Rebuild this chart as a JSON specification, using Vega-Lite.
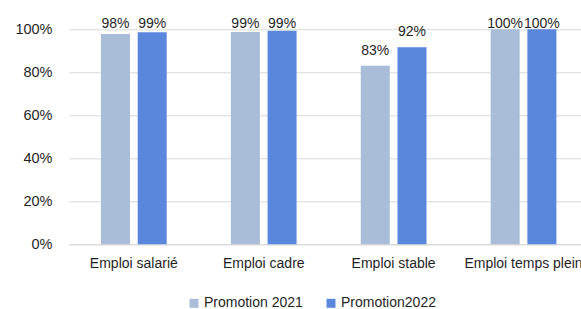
{
  "$schema": "https://vega.github.io/schema/vega-lite/v6.json",
  "width": 512,
  "height": 215,
  "autosize": {"type": "none"},
  "padding": {"left": 69, "top": 29.3, "right": 0, "bottom": 64.7},
  "background": "white",
  "config": {
    "view": {"stroke": null},
    "font": "Liberation Sans",
    "axis": {"labelFont": "Liberation Sans", "labelColor": "#1f1f1f", "titleFont": "Liberation Sans"},
    "legend": {"labelFont": "Liberation Sans"}
  },
  "data": {
    "values": [
      {"categorie": "Emploi salarié", "promotion": "Promotion 2021", "taux": 0.978},
      {"categorie": "Emploi salarié", "promotion": "Promotion2022", "taux": 0.986},
      {"categorie": "Emploi cadre", "promotion": "Promotion 2021", "taux": 0.988},
      {"categorie": "Emploi cadre", "promotion": "Promotion2022", "taux": 0.993},
      {"categorie": "Emploi stable", "promotion": "Promotion 2021", "taux": 0.831},
      {"categorie": "Emploi stable", "promotion": "Promotion2022", "taux": 0.917},
      {"categorie": "Emploi temps plein", "promotion": "Promotion 2021", "taux": 1.0},
      {"categorie": "Emploi temps plein", "promotion": "Promotion2022", "taux": 1.0}
    ]
  },
  "encoding": {
    "x": {
      "field": "categorie",
      "type": "nominal",
      "sort": null,
      "scale": {"paddingInner": 0.494, "paddingOuter": 0.2178, "align": 0.565, "round": false},
      "axis": {
        "title": null,
        "labelAngle": 0,
        "labelFontSize": 14,
        "labelPadding": 12,
        "ticks": false,
        "domainColor": "#d9d9d9",
        "domainWidth": 1,
        "grid": false,
        "labelLimit": 300
      }
    },
    "xOffset": {
      "field": "promotion",
      "type": "nominal",
      "sort": ["Promotion 2021", "Promotion2022"],
      "scale": {"paddingInner": 0.21, "paddingOuter": 0, "round": false}
    }
  },
  "layer": [
    {
      "mark": {"type": "bar"},
      "encoding": {
        "y": {
          "field": "taux",
          "type": "quantitative",
          "scale": {"domain": [0, 1], "nice": false},
          "axis": {
            "title": null,
            "format": ".0%",
            "values": [0, 0.2, 0.4, 0.6, 0.8, 1],
            "labelFontSize": 14.5,
            "labelPadding": 17,
            "ticks": false,
            "domain": false,
            "grid": true,
            "gridColor": "#d9d9d9",
            "gridWidth": 1
          }
        },
        "color": {
          "field": "promotion",
          "type": "nominal",
          "sort": ["Promotion 2021", "Promotion2022"],
          "scale": {"domain": ["Promotion 2021", "Promotion2022"], "range": ["#a9bcd8", "#5a87dc"]},
          "legend": {
            "title": null,
            "orient": "none",
            "direction": "horizontal",
            "legendX": 118,
            "legendY": 267,
            "symbolType": "square",
            "symbolSize": 81,
            "symbolStrokeWidth": 0,
            "labelFontSize": 14,
            "labelColor": "#1f1f1f",
            "labelOffset": 3,
            "columnPadding": 21,
            "padding": 0
          }
        }
      }
    },
    {
      "mark": {"type": "text", "baseline": "alphabetic", "dy": -11, "fontSize": 14, "color": "#1f1f1f"},
      "encoding": {
        "y": {
          "field": "taux",
          "type": "quantitative",
          "scale": {"domain": [0, 0.956], "range": [215, 9.46], "clamp": true, "nice": false, "zero": true},
          "axis": null
        },
        "text": {"field": "taux", "type": "quantitative", "format": ".0%"}
      }
    }
  ],
  "resolve": {"scale": {"y": "independent"}}
}
